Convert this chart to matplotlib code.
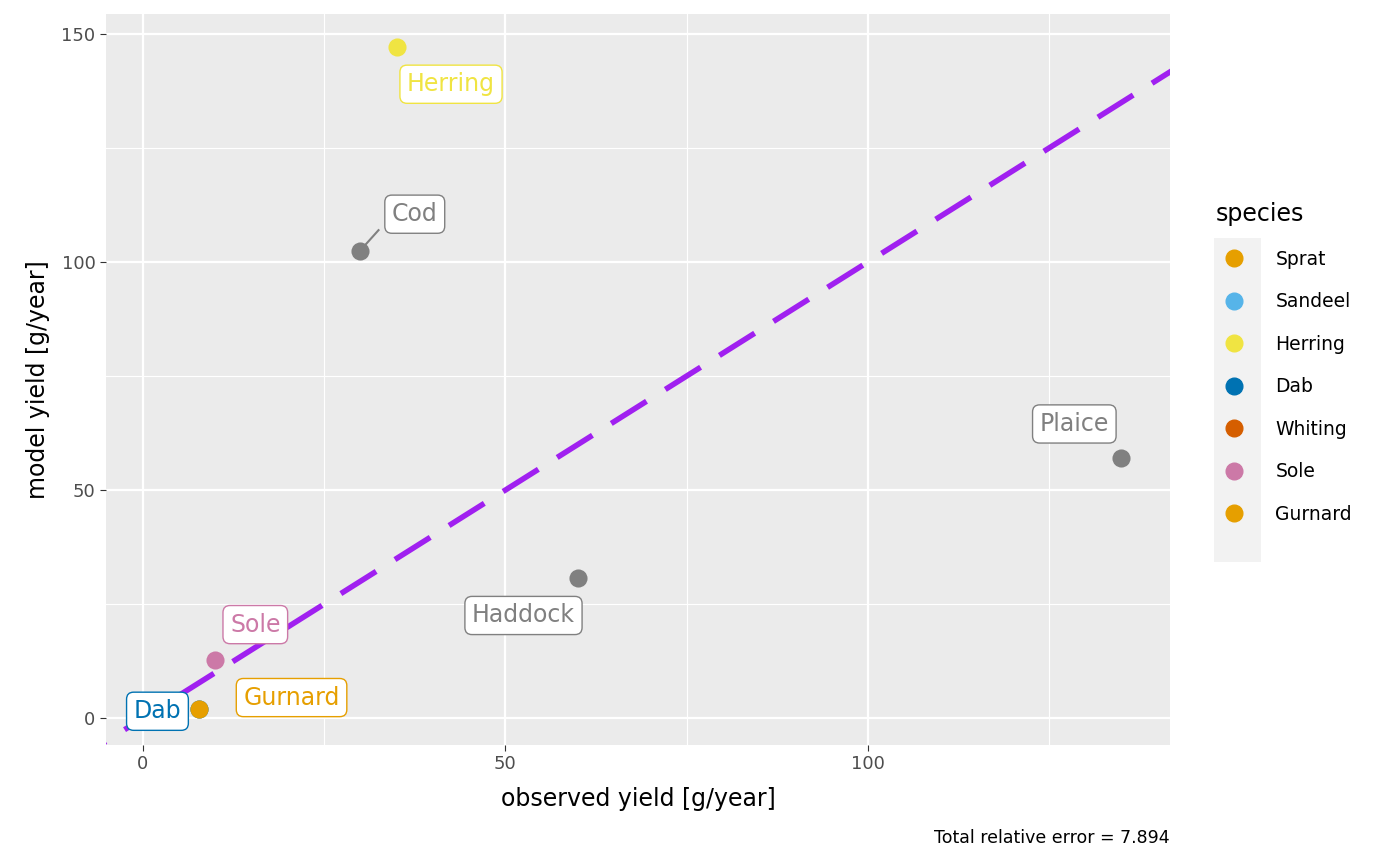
import matplotlib.pyplot as plt
from matplotlib.lines import Line2D
from matplotlib.patches import Rectangle

# observed vs model yield
species = ['Herring', 'Cod', 'Plaice', 'Haddock', 'Sole', 'Dab', 'Gurnard']
observed = [35.0, 29.9, 135.0, 60.0, 9.9, 7.7, 7.7]
model = [147.1, 102.4, 57.0, 30.7, 12.7, 2.0, 2.0]
colours = ['#F0E442', '#808080', '#808080', '#808080', '#CC79A7', '#0072B2', '#E69F00']
label_pos = [(42.5, 139.0), (37.5, 110.5), (128.5, 64.5), (52.5, 22.5),
             (15.5, 20.5), (2.0, 1.5), (20.5, 4.5)]

legend_species = ['Sprat', 'Sandeel', 'Herring', 'Dab', 'Whiting', 'Sole', 'Gurnard']
legend_colours = ['#E69F00', '#56B4E9', '#F0E442', '#0072B2', '#D55E00', '#CC79A7', '#E69F00']

fig = plt.figure(figsize=(14, 8.66), dpi=100)
ax = fig.add_axes([106/1400, 1-745/866, (1170-106)/1400, (745-14)/866])
ax.set_facecolor('#EBEBEB')
for s in ax.spines.values():
    s.set_visible(False)

ax.set_xlim(-5.1, 141.7)
ax.set_ylim(-5.9, 154.4)
ax.set_xticks([0, 50, 100])
ax.set_yticks([0, 50, 100, 150])
ax.set_xticks([25, 75, 125], minor=True)
ax.set_yticks([25, 75, 125], minor=True)
ax.grid(which='major', color='white', lw=1.6)
ax.grid(which='minor', color='white', lw=0.8)
ax.set_axisbelow(True)
ax.tick_params(which='major', length=4, color='#333333', labelsize=13, labelcolor='#4D4D4D')
ax.tick_params(which='minor', length=0)

ax.plot([-10, 160], [-10, 160], color='#A020F0', lw=4, ls=(0, (7.5, 4)), zorder=2)

for sp, x, y, c, (lx, ly) in zip(species, observed, model, colours, label_pos):
    ax.scatter(x, y, s=170, color=c, zorder=3, linewidths=0)
    if sp == 'Cod':
        ax.plot([x, 32.5], [y, 107], color=c, lw=1.5, zorder=2)
    ax.text(lx, ly, sp, color=c, fontsize=17, ha='center', va='center', zorder=4,
            bbox=dict(boxstyle='round,pad=0.3,rounding_size=0.3', fc='white', ec=c, lw=1))

ax.set_xlabel('observed yield [g/year]', fontsize=17, labelpad=10)
ax.set_ylabel('model yield [g/year]', fontsize=17, labelpad=8)
fig.text(1170/1400, 1-838/866, 'Total relative error = 7.894', ha='right', va='center', fontsize=12.5)

fig.patches.append(Rectangle((1214/1400, 1-562/866), 47/1400, 324/866,
                             transform=fig.transFigure, fc='#F2F2F2', ec='none', zorder=0))
handles = [Line2D([], [], marker='o', ls='', color=c, markersize=12) for c in legend_colours]
leg = fig.legend(handles, legend_species, title='species', loc='upper left',
                 bbox_to_anchor=(1208/1400, 1-195/866), frameon=False, fontsize=13.5,
                 title_fontsize=17, handletextpad=1.2, labelspacing=1.25, borderaxespad=0)
leg._legend_box.align = 'left'

fig.savefig('out.png', dpi=100)
